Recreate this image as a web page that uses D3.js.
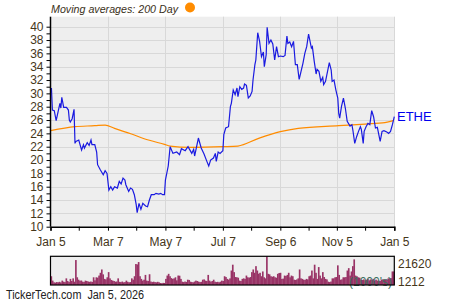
<!DOCTYPE html>
<html>
<head>
<meta charset="utf-8">
<script src="https://cdn.jsdelivr.net/npm/d3@7/dist/d3.min.js"></script>
<style>
  body { margin: 0; background: #fff; }
  svg text { font-family: "Liberation Sans", Arial, sans-serif; }
</style>
</head>
<body>
<div id="chart"></div>
<script>
// price (days since Jan 5 2025 -> close)
const priceDay = [1,2,4,6,10,11,12,14,17,19,20,21,23,25,26,27,30,33,35,36,39,41,43,44,47,49,50,53,56,58,60,62,64,66,68,71,73,75,77,79,80,83,85,87,89,91,92,94,96,98,101,103,105,107,110,112,115,117,119,121,122,125,127,130,134,137,139,143,146,150,152,153,157,160,163,166,168,170,173,175,176,178,180,183,184,186,189,191,192,194,196,198,199,201,203,205,206,208,210,212,214,215,217,218,220,222,224,226,227,229,230,232,234,236,238,240,242,244,247,249,251,252,254,256,258,260,262,264,266,268,270,272,274,277,278,280,282,283,285,287,289,290,292,296,298,299,301,303,305,306,307,309,311,313,315,318,320,321,323,325,327,329,330,332,333,335,337,339,341,343,345,347,350,352,354,357,359,361,363,365];
const priceValue = [30.8,27.5,27.4,25.9,28.5,27.8,29.4,27.9,27.9,27.5,26.0,25.7,26.2,27.6,22.5,22.8,23.0,21.5,22.3,21.8,22.6,22.2,23.0,22.3,22.3,21.2,19.3,18.5,17.8,18.4,18.0,15.5,16.0,15.5,16.0,15.8,16.8,16.4,17.3,17.0,16.3,15.3,15.8,15.6,14.8,13.3,12.1,13.5,12.6,13.5,13.1,13.0,14.0,14.8,14.8,15.0,14.9,15.0,14.8,14.8,17.0,19.1,22.0,21.0,21.2,20.8,21.7,21.4,22.0,21.0,21.6,20.6,23.3,21.8,20.9,19.8,19.1,20.0,20.3,21.0,19.8,21.2,21.0,21.4,23.8,24.8,25.0,28.0,28.5,30.5,29.8,30.8,29.5,31.0,30.6,30.8,31.4,31.2,29.3,29.6,30.3,32.0,34.3,35.0,39.1,37.8,35.5,36.2,34.0,35.8,39.9,37.5,38.0,37.4,35.0,37.0,35.5,35.6,35.5,35.7,38.6,37.5,37.7,37.0,37.8,34.3,34.3,32.1,33.3,34.5,36.0,37.0,38.9,36.8,37.0,34.8,32.9,33.6,33.3,31.8,32.4,31.3,31.8,34.6,33.5,31.8,32.0,30.5,29.3,27.0,26.3,28.1,29.3,27.8,25.8,25.1,25.3,24.5,22.5,23.5,24.3,25.0,24.6,22.5,24.3,25.0,25.5,25.3,27.4,26.5,24.8,24.9,22.8,24.3,24.4,24.2,24.0,24.3,25.3,26.5];

// 200 day moving average
const maDay = [0,26,47,58,68,86,104,121,127,148,183,199,221,244,263,306,334,355,364];
const maValue = [24.4,25.0,25.15,25.25,24.75,23.9,23.0,22.35,22.1,21.9,22.0,22.1,23.25,24.25,24.75,25.15,25.4,25.6,25.9];

// daily volume, thousands
const volume = [6.6,3.3,2.0,1.8,2.2,2.0,2.4,1.9,3.3,2.5,2.2,5.0,3.0,2.2,4.6,3.0,5.0,2.5,18.8,5.8,4.0,3.2,3.4,2.5,2.3,3.3,3.0,2.6,2.4,2.6,2.3,5.8,3.5,5.8,5.5,7.1,9.2,11.7,8.0,4.6,4.2,5.8,9.7,5.0,3.8,3.3,3.0,2.5,2.6,5.0,2.4,2.2,2.6,2.0,2.2,3.3,2.4,2.0,2.2,5.0,4.0,6.6,15.8,15.5,17.3,6.6,4.6,3.3,4.0,7.6,3.3,3.0,8.1,2.6,2.2,2.5,2.2,2.0,2.4,2.0,1.5,1.3,1.6,1.5,4.6,7.1,8.4,6.6,5.2,4.6,5.0,5.8,3.5,7.1,7.0,4.6,2.5,2.2,2.6,2.3,4.0,3.8,2.5,2.2,2.0,2.6,3.3,3.0,2.5,2.2,2.4,4.0,4.2,3.3,3.0,7.6,3.3,2.5,3.0,4.0,2.5,2.2,2.4,2.0,2.5,3.3,3.0,
  6.6,6.0,4.6,4.0,5.0,10.9,15.3,9.7,6.0,5.8,5.5,3.3,3.0,4.6,5.0,4.6,7.1,5.8,5.5,6.0,9.7,11.7,9.2,14.2,10.9,8.5,9.2,6.6,10.2,5.8,5.0,21.6,8.4,8.0,6.6,6.2,6.6,5.8,5.5,8.4,9.0,9.2,4.6,4.8,7.1,6.8,7.6,9.2,5.8,7.1,6.6,4.0,3.8,4.2,5.0,11.7,5.0,4.6,4.0,3.8,4.6,4.2,6.6,7.1,10.9,5.0,15.3,9.2,4.6,13.5,7.1,5.0,9.7,6.0,4.6,4.2,2.5,2.2,2.6,5.0,5.0,5.8,6.0,14.8,7.6,4.0,4.2,5.8,5.8,6.0,10.9,12.7,7.1,10.2,14.2,19.3,7.1,6.6,5.8,5.5,4.0,3.8,4.2,3.5,4.0,4.6,3.5,4.2,3.8,4.6,3.3,4.0,3.3,3.3,3.0,4.0,4.2,4.0,4.0,4.2,5.0,5.0,5.2,10.2,10.2];

const tickDates = ['2025-01-05','2025-03-07','2025-05-07','2025-07-07','2025-09-06','2025-11-05','2026-01-05'];
const tickLabels = ['Jan 5','Mar 7','May 7','Jul 7','Sep 6','Nov 5','Jan 5'];
const minorDates = ['2025-02-04','2025-04-06','2025-06-06','2025-08-06','2025-10-06','2025-12-05'];
const volLabels = ['21620','1212'];

const W = 450, H = 300;
const plotL = 50.5, plotR = 394.3, plotT = 16.7, plotB = 226.7;
const vTop = 256.3, vBottom = 285;
const txtColor = '#45361a';

const parse = d3.timeParse('%Y-%m-%d');
const fmt = d3.timeFormat('%Y-%m-%d');
const start = parse('2025-01-05'), end = parse('2026-01-05');
const day = d => d3.timeDay.offset(start, d);

const svg = d3.select('#chart').append('svg')
  .attr('width', W).attr('height', H);

const x = d3.scaleTime().domain([start, end]).range([plotL, plotR]);
const y = d3.scaleLinear().domain([10, 41.5]).range([plotB, plotT]);

// plot background
svg.append('rect')
  .attr('x', plotL).attr('y', plotT)
  .attr('width', plotR - plotL).attr('height', plotB - plotT)
  .attr('fill', '#eeeeee');

// grid
svg.append('g').selectAll('line')
  .data(d3.range(12, 41, 2))
  .enter().append('line')
  .attr('x1', plotL).attr('x2', plotR)
  .attr('y1', d => Math.round(y(d)) + 0.5).attr('y2', d => Math.round(y(d)) + 0.5)
  .attr('stroke', '#d8d8d8');

svg.append('g').selectAll('line')
  .data(tickDates.slice(1).map(parse))
  .enter().append('line')
  .attr('x1', d => Math.round(x(d)) + 0.5).attr('x2', d => Math.round(x(d)) + 0.5)
  .attr('y1', plotT).attr('y2', plotB)
  .attr('stroke', '#d8d8d8');

// moving average
svg.append('path')
  .datum(maDay.map((d, i) => [day(d), maValue[i]]))
  .attr('fill', 'none')
  .attr('stroke', '#ff8c00')
  .attr('stroke-width', 1.2)
  .attr('d', d3.line().x(d => x(d[0])).y(d => y(d[1])).curve(d3.curveMonotoneX));

// price
svg.append('path')
  .datum(priceDay.map((d, i) => [day(d), priceValue[i]]))
  .attr('fill', 'none')
  .attr('stroke', '#1a1ae0')
  .attr('stroke-width', 1.2)
  .attr('d', d3.line().x(d => x(d[0])).y(d => y(d[1])));

// y axis
const yAxis = svg.append('g')
  .attr('transform', `translate(${plotL},0)`)
  .call(d3.axisLeft(y).tickValues(d3.range(10, 41, 1)).tickSize(4)
    .tickFormat(d => d % 2 === 0 ? d : ''));
yAxis.select('.domain').attr('d', `M0,${plotT}V${plotB}`);

// x axis
const xAxis = svg.append('g')
  .attr('transform', `translate(0,${plotB})`)
  .call(d3.axisBottom(x).tickValues(tickDates.concat(minorDates).map(parse)).tickSize(4)
    .tickPadding(7)
    .tickFormat(d => {
      const i = tickDates.indexOf(fmt(d));
      return i >= 0 ? tickLabels[i] : '';
    }));

[yAxis, xAxis].forEach(a => {
  a.select('.domain').attr('stroke', '#000').attr('stroke-width', 1.5);
  a.selectAll('.tick line').attr('stroke', '#000');
  a.selectAll('text').attr('fill', txtColor).style('font-size', '12px');
});
yAxis.selectAll('text').attr('x', -7);

// legend
svg.append('text')
  .attr('x', 51).attr('y', 13)
  .attr('fill', '#3a3020')
  .style('font-size', '11.5px').style('font-style', 'italic')
  .attr('textLength', 127).attr('lengthAdjust', 'spacingAndGlyphs')
  .text('Moving averages: 200 Day');
svg.append('circle')
  .attr('cx', 190).attr('cy', 7.5).attr('r', 5)
  .attr('fill', '#ff8c00');

// ticker label
svg.append('text')
  .attr('x', 397).attr('y', y(priceValue[priceValue.length - 1]) + 4.5)
  .attr('fill', '#0000ee')
  .style('font-size', '13px')
  .text('ETHE');

// volume panel
const xv = d3.scaleBand().domain(d3.range(volume.length)).range([plotL, plotR]).padding(0);
const yv = d3.scaleLinear().domain([0, 21.62]).range([vBottom, vTop]);

svg.append('rect')
  .attr('x', plotL).attr('y', vTop)
  .attr('width', plotR - plotL).attr('height', vBottom - vTop)
  .attr('fill', '#eeeeee');

svg.append('g').selectAll('rect')
  .data(volume)
  .enter().append('rect')
  .attr('x', (d, i) => xv(i))
  .attr('width', xv.bandwidth() + 0.3)
  .attr('y', d => yv(d))
  .attr('height', d => vBottom - yv(d))
  .attr('fill', '#993366');

svg.append('text')
  .attr('x', 392).attr('y', 285.5)
  .attr('text-anchor', 'end')
  .attr('fill', '#3a6e5e')
  .style('font-size', '12px')
  .text("(1000's)");

svg.append('rect')
  .attr('x', plotL).attr('y', vTop)
  .attr('width', plotR - plotL).attr('height', vBottom - vTop)
  .attr('fill', 'none').attr('stroke', '#000').attr('stroke-width', 1.2);

svg.append('g').selectAll('text')
  .data(volLabels)
  .enter().append('text')
  .attr('x', 398)
  .attr('y', (d, i) => i === 0 ? 267.5 : 286)
  .attr('fill', txtColor)
  .style('font-size', '12px')
  .text(d => d);

// footer
svg.append('text')
  .attr('x', 6).attr('y', 298.5)
  .attr('fill', '#222')
  .style('font-size', '12.5px')
  .attr('textLength', 138).attr('lengthAdjust', 'spacingAndGlyphs')
  .attr('xml:space', 'preserve')
  .text('TickerTech.com  Jan 5, 2026');
</script>
</body>
</html>
